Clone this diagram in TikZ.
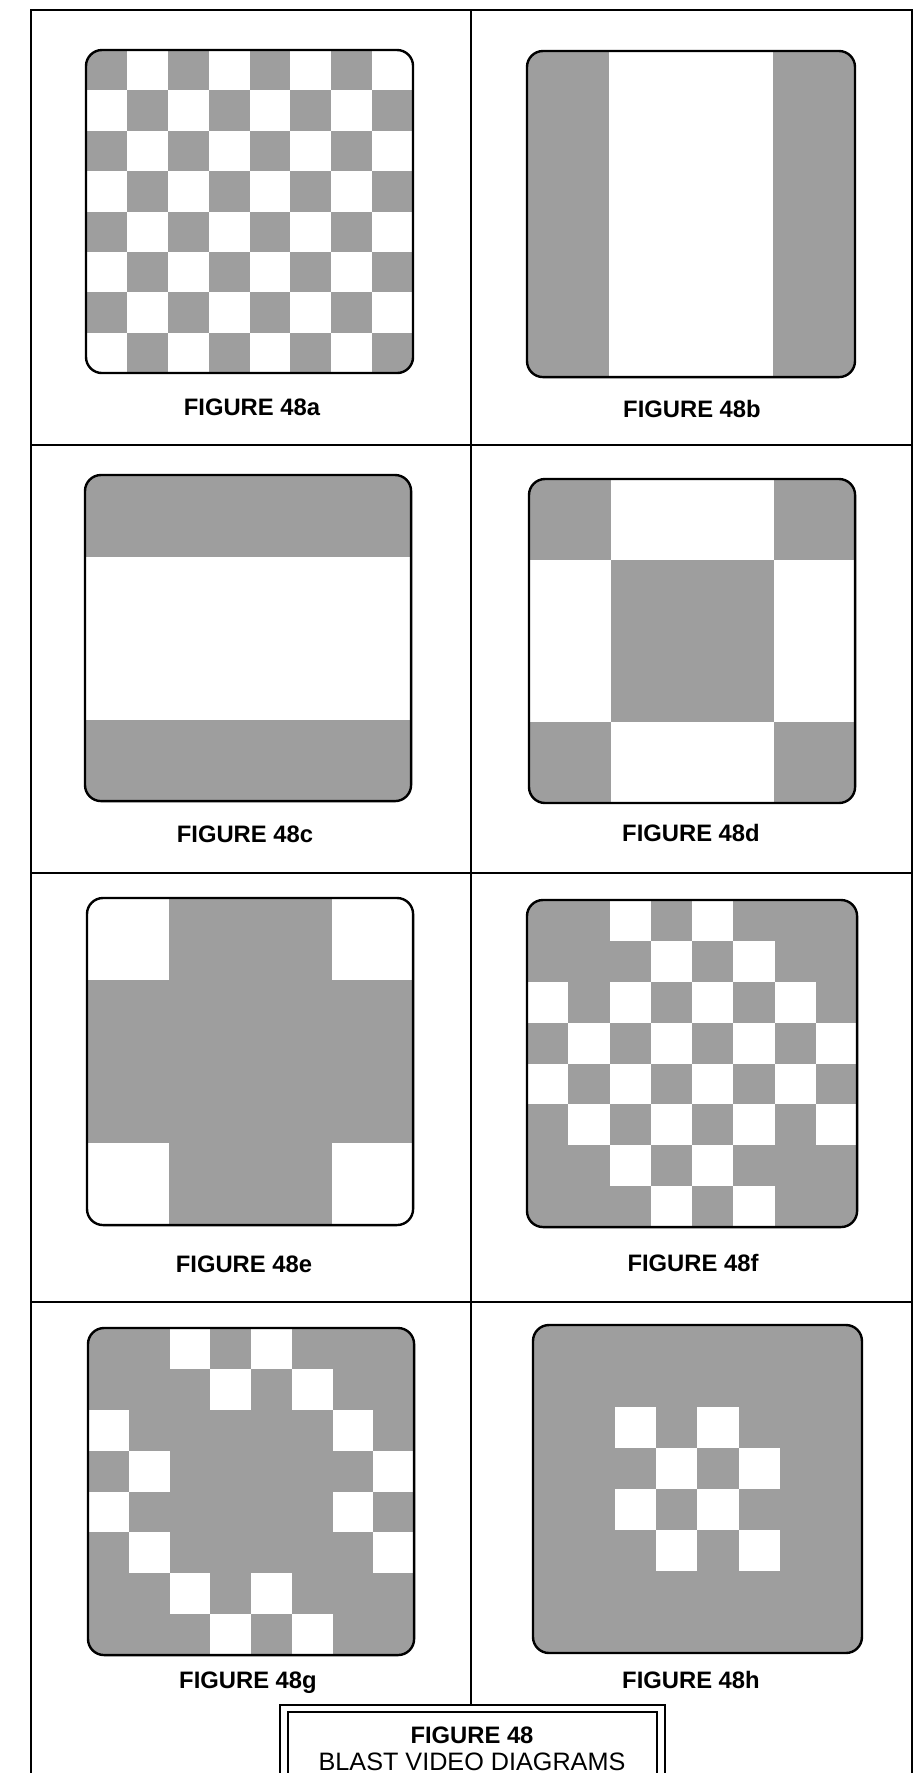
\documentclass[tikz,border=0pt]{standalone}
\usepackage{fontspec}
\setmainfont{Liberation Sans}
\usetikzlibrary{positioning}

\tikzset{
    frameline/.style={line width=1.3pt},
    screenline/.style={draw, line width=1.2pt, rounded corners=8pt},
    halftone/.style={fill=black!38},
    blank/.style={fill=white},
}

\begin{document}
\begin{tikzpicture}[
        x=0.5pt, y=-0.5pt,
        figlabel/.style={font=\bfseries\fontsize{11.9}{14}\selectfont,
            anchor=base, inner sep=0pt},
        captitle/.style={font=\bfseries\fontsize{11.9}{14}\selectfont,
            anchor=base, inner sep=0pt},
        capsub/.style={font=\fontsize{12.6}{15}\selectfont, inner sep=0pt},
    ]
    \useasboundingbox (0,0) rectangle (922,1773);

    % frame and grid
    \draw[frameline] (31,1773) -- (31,10) -- (912,10) -- (912,1773);
    \foreach \yy in {445,873,1302}
        \draw[frameline] (31,\yy) -- (912,\yy);
    \draw[frameline] (471,10) -- (471,1705);

    % 48a
    \begin{scope}[shift={(86,50)}, x=20.44pt, y=-20.19pt]
        \begin{scope}
            \clip[rounded corners=8pt] (0,0) rectangle (8,8);
            \fill[halftone] (0,0) rectangle (8,8);
            \foreach \rw in {0,...,7}
                \foreach \cl in {0,...,7} {
                    \pgfmathtruncatemacro{\lit}{mod(\rw+\cl,2)}
                    \ifnum\lit=1 \fill[blank] (\cl,\rw) rectangle ++(1,1); \fi
                }
        \end{scope}
        \draw[screenline] (0,0) rectangle (8,8);
    \end{scope}
    \node[figlabel] (fig-a) at (252,415) {FIGURE 48a};

    % 48b
    \begin{scope}[shift={(527,51)}, x=20.5pt, y=-20.38pt]
        \begin{scope}
            \clip[rounded corners=8pt] (0,0) rectangle (8,8);
            \fill[halftone] (0,0) rectangle (8,8);
            \fill[blank] (2,0) rectangle (6,8);
        \end{scope}
        \draw[screenline] (0,0) rectangle (8,8);
    \end{scope}
    \node[figlabel] (fig-b) at (692,417) {FIGURE 48b};

    % 48c
    \begin{scope}[shift={(85,475)}, x=20.38pt, y=-20.38pt]
        \begin{scope}
            \clip[rounded corners=8pt] (0,0) rectangle (8,8);
            \fill[halftone] (0,0) rectangle (8,8);
            \fill[blank] (0,2) rectangle (8,6);
        \end{scope}
        \draw[screenline] (0,0) rectangle (8,8);
    \end{scope}
    \node[figlabel] (fig-c) at (245,842) {FIGURE 48c};

    % 48d
    \begin{scope}[shift={(529,479)}, x=20.38pt, y=-20.25pt]
        \begin{scope}
            \clip[rounded corners=8pt] (0,0) rectangle (8,8);
            \fill[halftone] (0,0) rectangle (8,8);
            \fill[blank] (2,0) rectangle (6,2);
            \fill[blank] (0,2) rectangle (2,6);
            \fill[blank] (6,2) rectangle (8,6);
            \fill[blank] (2,6) rectangle (6,8);
        \end{scope}
        \draw[screenline] (0,0) rectangle (8,8);
    \end{scope}
    \node[figlabel] (fig-d) at (691,841) {FIGURE 48d};

    % 48e
    \begin{scope}[shift={(87,898)}, x=20.38pt, y=-20.44pt]
        \begin{scope}
            \clip[rounded corners=8pt] (0,0) rectangle (8,8);
            \fill[halftone] (0,0) rectangle (8,8);
            \foreach \cl/\rw in {0/0,6/0,0/6,6/6}
                \fill[blank] (\cl,\rw) rectangle ++(2,2);
        \end{scope}
        \draw[screenline] (0,0) rectangle (8,8);
    \end{scope}
    \node[figlabel] (fig-e) at (244,1272) {FIGURE 48e};

    % 48f
    \begin{scope}[shift={(527,900)}, x=20.63pt, y=-20.44pt]
        \begin{scope}
            \clip[rounded corners=8pt] (0,0) rectangle (8,8);
            \fill[halftone] (0,0) rectangle (8,8);
            \foreach \rw in {0,...,7}
                \foreach \cl in {0,...,7} {
                    \pgfmathtruncatemacro{\lit}{and(mod(\rw+\cl,2)==0,
                        or(and(\rw>1,\rw<6),and(\cl>1,\cl<6)))}
                    \ifnum\lit=1 \fill[blank] (\cl,\rw) rectangle ++(1,1); \fi
                }
        \end{scope}
        \draw[screenline] (0,0) rectangle (8,8);
    \end{scope}
    \node[figlabel] (fig-f) at (693,1271) {FIGURE 48f};

    % 48g
    \begin{scope}[shift={(88,1328)}, x=20.38pt, y=-20.44pt]
        \begin{scope}
            \clip[rounded corners=8pt] (0,0) rectangle (8,8);
            \fill[halftone] (0,0) rectangle (8,8);
            \foreach \rw in {0,...,7}
                \foreach \cl in {0,...,7} {
                    \pgfmathtruncatemacro{\lit}{and(mod(\rw+\cl,2)==0,
                        and(\rw>1,\rw<6)+and(\cl>1,\cl<6)==1)}
                    \ifnum\lit=1 \fill[blank] (\cl,\rw) rectangle ++(1,1); \fi
                }
        \end{scope}
        \draw[screenline] (0,0) rectangle (8,8);
    \end{scope}
    \node[figlabel] (fig-g) at (248,1688) {FIGURE 48g};

    % 48h
    \begin{scope}[shift={(533,1325)}, x=20.56pt, y=-20.5pt]
        \begin{scope}
            \clip[rounded corners=8pt] (0,0) rectangle (8,8);
            \fill[halftone] (0,0) rectangle (8,8);
            \foreach \rw in {2,...,5}
                \foreach \cl in {2,...,5} {
                    \pgfmathtruncatemacro{\lit}{mod(\rw+\cl,2)}
                    \ifnum\lit=0 \fill[blank] (\cl,\rw) rectangle ++(1,1); \fi
                }
        \end{scope}
        \draw[screenline] (0,0) rectangle (8,8);
    \end{scope}
    \node[figlabel] (fig-h) at (691,1688) {FIGURE 48h};

    % caption box
    \draw[frameline] (280,1773) -- (280,1705) -- (665,1705) -- (665,1773);
    \draw[frameline] (288,1773) -- (288,1712) -- (657,1712) -- (657,1773);
    \node[captitle] (cap) at (472,1743) {FIGURE 48};
    \node[capsub, below=4.5pt of cap] (cap-sub) {BLAST VIDEO DIAGRAMS};
\end{tikzpicture}
\end{document}
